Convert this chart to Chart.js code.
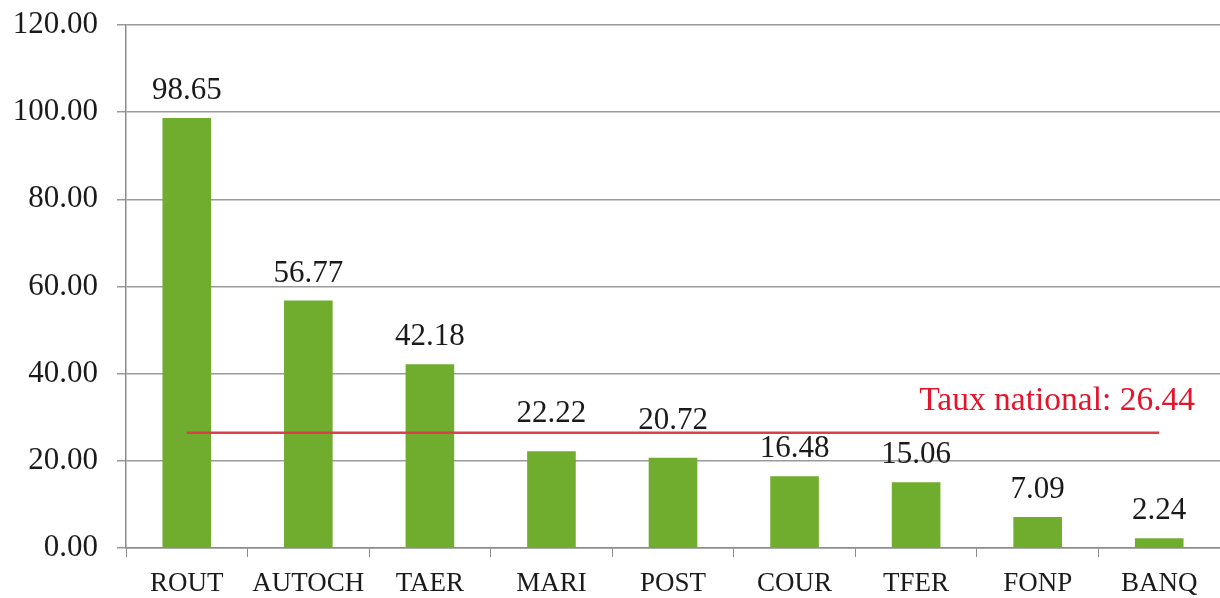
<!DOCTYPE html>
<html>
<head>
<meta charset="utf-8">
<script src="https://cdn.jsdelivr.net/npm/chart.js@4.4.1/dist/chart.umd.min.js"></script>
<style>
  html, body { margin: 0; padding: 0; background: #fff; }
  #wrap { width: 1220px; height: 598px; }
</style>
</head>
<body>
<div id="wrap"><canvas id="barChart"></canvas></div>
<script>
// Données
const secteurs = ['ROUT', 'AUTOCH', 'TAER', 'MARI', 'POST', 'COUR', 'TFER', 'FONP', 'BANQ'];
const taux = [98.65, 56.77, 42.18, 22.22, 20.72, 16.48, 15.06, 7.09, 2.24];
const tauxNational = 26.44;
const ligneNationale = secteurs.map(() => tauxNational);

const police = '"Liberation Serif", "DejaVu Serif", serif';

// étiquettes au-dessus des barres + texte de la ligne rouge
const etiquettes = {
    id: 'etiquettes',
    afterDatasetsDraw(chart) {
        const ctx = chart.ctx;
        const meta = chart.getDatasetMeta(1);
        ctx.save();
        ctx.font = '31px ' + police;
        ctx.fillStyle = '#1a1a1a';
        ctx.textAlign = 'center';
        ctx.textBaseline = 'alphabetic';
        meta.data.forEach((bar, i) => {
            // MARI et POST sont remontées pour ne pas toucher la ligne
            const decal = (i === 3 || i === 4) ? 29 : 19;
            ctx.fillText(taux[i].toFixed(2), bar.x, bar.y - decal);
        });
        const y = chart.scales.y.getPixelForValue(tauxNational);
        ctx.font = '33.5px ' + police;
        ctx.fillStyle = '#e3142c';
        ctx.textAlign = 'right';
        ctx.fillText('Taux national: ' + tauxNational.toFixed(2), chart.chartArea.right - 25, y - 23);
        ctx.restore();
    }
};

const ctx = document.getElementById('barChart').getContext('2d');
const barChart = new Chart(ctx, {
    type: 'bar',
    data: {
        labels: secteurs,
        datasets: [{
            type: 'line',
            label: 'Taux national',
            data: ligneNationale,
            borderColor: '#d8404a',
            borderWidth: 2.5,
            pointRadius: 0,
            fill: false,
            order: 0
        }, {
            label: 'Taux',
            data: taux,
            backgroundColor: '#70ad2f',
            barPercentage: 0.4,
            categoryPercentage: 1,
            order: 1
        }]
    },
    options: {
        responsive: true,
        maintainAspectRatio: false,
        animation: false,
        layout: { padding: { top: 25, right: 0, left: 0, bottom: 0 } },
        plugins: {
            legend: { display: false },
            tooltip: { enabled: false }
        },
        scales: {
            x: {
                afterFit: (s) => {
                    s.height = 50;
                    s.paddingLeft = 0;
                    s.paddingRight = 0;
                },
                grid: {
                    drawOnChartArea: false,
                    drawTicks: true,
                    tickLength: 9,
                    color: '#8c8c8c'
                },
                border: { color: '#8c8c8c', width: 1.5 },
                ticks: {
                    color: '#1a1a1a',
                    font: { family: police, size: 27 },
                    padding: 11,
                    maxRotation: 0,
                    autoSkip: false
                }
            },
            y: {
                min: 0,
                max: 120,
                afterFit: (s) => {
                    s.width = 126;
                    s.paddingTop = 0;
                    s.paddingBottom = 0;
                },
                grid: {
                    color: '#9a9a9a',
                    lineWidth: 1.5,
                    tickLength: 9
                },
                border: { color: '#8c8c8c', width: 1.5 },
                ticks: {
                    stepSize: 20,
                    color: '#1a1a1a',
                    font: { family: police, size: 31 },
                    padding: 19,
                    callback: (v) => v.toFixed(2)
                }
            }
        }
    },
    plugins: [etiquettes]
});
</script>
</body>
</html>
